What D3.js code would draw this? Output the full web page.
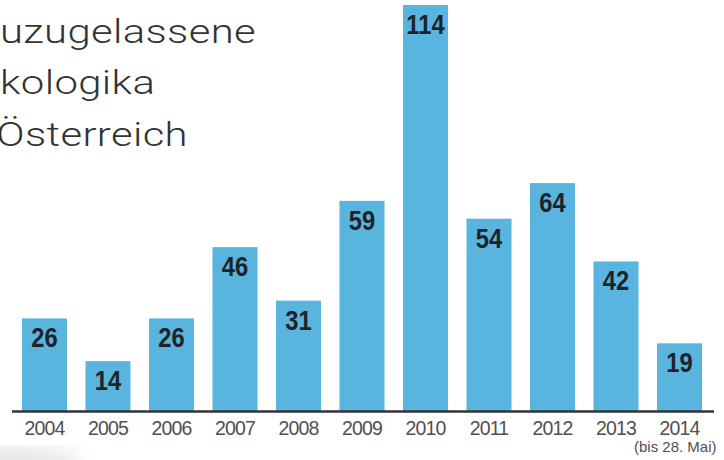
<!DOCTYPE html>
<html>
<head>
<meta charset="utf-8">
<script src="https://cdn.jsdelivr.net/npm/d3@7"></script>
<style>
  body { margin: 0; background: #fff; }
  svg { display: block; }
</style>
</head>
<body>
<svg id="chart" width="724" height="460"></svg>
<script>
const years = ['2004', '2005', '2006', '2007', '2008', '2009', '2010', '2011', '2012', '2013', '2014'];
const counts = [26, 14, 26, 46, 31, 59, 114, 54, 64, 42, 19];
const titleLines = ['uzugelassene', 'kologika', 'Österreich'];
const footNote = '(bis 28. Mai)';

const width = 724;
const height = 460;
const baseY = 411;

const svg = d3.select('#chart');

// faint grey smudge in the lower left corner of the scan
const defs = svg.append('defs');
defs.append('filter').attr('id', 'blur')
  .append('feGaussianBlur').attr('stdDeviation', 10);
svg.append('ellipse')
  .attr('cx', 10)
  .attr('cy', 462)
  .attr('rx', 70)
  .attr('ry', 14)
  .style('fill', '#e4e4e4')
  .attr('filter', 'url(#blur)');

const x = d3.scaleBand()
  .domain(years)
  .range([12, 712])
  .paddingInner(0.291)
  .paddingOuter(0.157);

const y = d3.scaleLinear()
  .domain([0, 114])
  .range([baseY, 5]);

const data = years.map((yr, i) => ({ year: yr, value: counts[i] }));

// title, cut off on the left like the original
svg.append('g')
  .attr('transform', 'scale(1.23,1)')
  .selectAll('text')
  .data(titleLines)
  .join('text')
  .attr('x', (d, i) => (i == 2 ? -3 : 0))
  .attr('y', (d, i) => 43 + i * 51.5)
  .style('font-family', 'Roboto, "Liberation Sans", Arial, sans-serif')
  .style('font-weight', 300)
  .style('font-size', '34px')
  .style('letter-spacing', '0.3px')
  .style('fill', '#333')
  .text((d) => d);

// bars
svg.append('g')
  .selectAll('rect')
  .data(data)
  .join('rect')
  .attr('x', (d) => x(d.year))
  .attr('y', (d) => y(d.value))
  .attr('width', x.bandwidth())
  .attr('height', (d) => baseY - y(d.value))
  .style('fill', '#59b4de');

// value labels inside the bars (condensed bold)
svg.append('g')
  .selectAll('text')
  .data(data)
  .join('text')
  .attr('transform', (d) => `translate(${x(d.year) + x.bandwidth() / 2},${y(d.value) + 29}) scale(0.88,1)`)
  .style('text-anchor', 'middle')
  .style('font-family', '"Liberation Sans", Arial, sans-serif')
  .style('font-weight', 700)
  .style('font-size', '27px')
  .style('fill', '#1f2328')
  .text((d) => d.value);

// axis line + year labels
const axis = d3.axisBottom(x).tickSize(0).tickPadding(10);
const gx = svg.append('g')
  .attr('transform', `translate(0,${baseY})`)
  .call(axis);

gx.select('.domain').remove();
gx.append('line')
  .attr('x1', 12)
  .attr('x2', 714)
  .attr('y1', 0.5)
  .attr('y2', 0.5)
  .style('stroke', '#333')
  .style('stroke-width', 2.5);

gx.selectAll('.tick text')
  .attr('dy', null)
  .attr('y', 24)
  .style('font-family', '"Liberation Sans", Arial, sans-serif')
  .style('font-size', '19.5px')
  .style('letter-spacing', '-0.8px')
  .style('fill', '#505050');

svg.append('text')
  .attr('x', 634)
  .attr('y', 452)
  .style('font-family', '"Liberation Sans", Arial, sans-serif')
  .style('font-size', '15px')
  .style('fill', '#505050')
  .text(footNote);
</script>
</body>
</html>
